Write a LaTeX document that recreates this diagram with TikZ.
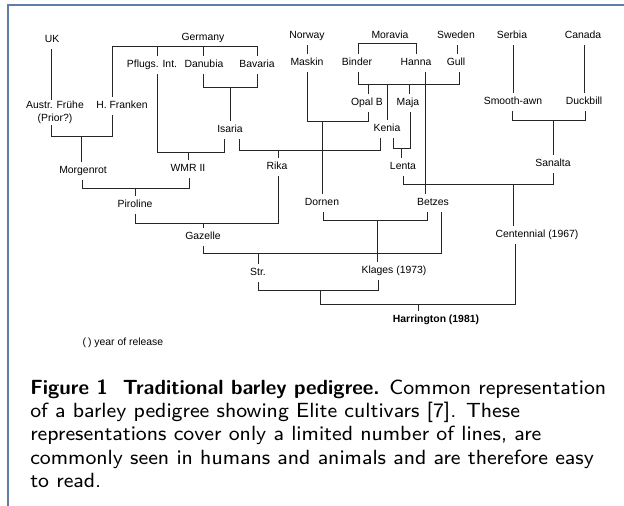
\documentclass[tikz,border=0pt]{standalone}
\usepackage{fontspec}
\usepackage{graphicx}
\newfontfamily\arialf{Liberation Sans}
\definecolor{bordc}{RGB}{95,125,165}
\newcommand{\capsz}[1]{\scalebox{1.925}{\sffamily\fontsize{8}{9.6}\selectfont #1}}
\begin{document}
\begin{tikzpicture}[x=0.75pt,y=-0.75pt,
  lbl/.style={font=\arialf\fontsize{7.8}{9}\selectfont, inner xsep=1pt, inner ysep=3.2pt, text height=5.8pt, text depth=1.4pt},
  lbl2/.style={font=\arialf\fontsize{7.8}{9.8}\selectfont, inner sep=1pt, align=center},
  ln/.style={line width=0.65pt, black!85},
  capline/.style={anchor=base west, inner sep=0pt},
  bordr/.style={line width=1.3pt, draw=bordc}]
\useasboundingbox (0,0) rectangle (624,506);
\draw[bordr] (624,5) -- (8,5) -- (8,506);
% nodes
\node[lbl] (uk) at (52,40) {UK};
\node[lbl] (germany) at (203,38) {Germany};
\node[lbl] (norway) at (307,36) {Norway};
\node[lbl] (moravia) at (390,36) {Moravia};
\node[lbl] (sweden) at (456,36) {Sweden};
\node[lbl] (serbia) at (512,36) {Serbia};
\node[lbl] (canada) at (583,36) {Canada};
\node[lbl] (pflugs) at (152,65) {Pflugs. Int.};
\node[lbl] (danubia) at (204,65) {Danubia};
\node[lbl] (bavaria) at (257,65) {Bavaria};
\node[lbl] (maskin) at (307,63) {Maskin};
\node[lbl] (binder) at (357,63) {Binder};
\node[lbl] (hanna) at (416,63) {Hanna};
\node[lbl] (gull) at (456,63) {Gull};
\node[lbl2] (austr) at (55,112.5) {Austr. Frühe\\(Prior?)};
\node[lbl] (hfranken) at (122,106) {H. Franken};
\node[lbl] (opalb) at (367,103) {Opal B};
\node[lbl] (maja) at (408,103) {Maja};
\node[lbl] (smooth) at (513,102) {Smooth-awn};
\node[lbl] (duckbill) at (584,102) {Duckbill};
\node[lbl] (isaria) at (230,130) {Isaria};
\node[lbl] (kenia) at (387,129) {Kenia};
\node[lbl] (morgenrot) at (83,171) {Morgenrot};
\node[lbl] (wmr) at (188,169) {WMR II};
\node[lbl] (rika) at (277,167) {Rika};
\node[lbl] (lenta) at (403,167) {Lenta};
\node[lbl] (sanalta) at (553,164) {Sanalta};
\node[lbl] (piroline) at (135,205) {Piroline};
\node[lbl] (dornen) at (322,203) {Dornen};
\node[lbl] (betzes) at (433,203) {Betzes};
\node[lbl] (gazelle) at (203,237) {Gazelle};
\node[lbl] (centennial) at (537,235) {Centennial (1967)};
\node[lbl] (str) at (258,273) {Str.};
\node[lbl] (klages) at (394,271) {Klages (1973)};
\node[lbl, font=\arialf\bfseries\fontsize{7.8}{9}\selectfont] (harrington) at (436,320) {Harrington (1981)};
\node[lbl, anchor=west] (legend) at (81,343) {(\hspace{1.5pt}) year of release};
% connectors
\draw[ln] (uk.south -| 51,0) -- (austr.north -| 51,0);
\draw[ln] (hfranken.north -| 112,0) -- (112,46) -- (257,46) -- (bavaria.north -| 257,0);
\draw[ln] (157,46) -- (pflugs.north -| 157,0);
\draw[ln] (203,46) -- (danubia.north -| 203,0);
\draw[ln] (austr.south -| 51,0) -- (51,136) -- (112,136) -- (hfranken.south -| 112,0);
\draw[ln] (81,136) -- (morgenrot.north -| 81,0);
\draw[ln] (danubia.south -| 203,0) -- (203,87) -- (257,87) -- (bavaria.south -| 257,0);
\draw[ln] (230,87) -- (isaria.north -| 230,0);
\draw[ln] (pflugs.south -| 157,0) -- (157,152) -- (224,152) -- (isaria.south -| 224,0);
\draw[ln] (188,152) -- (wmr.north -| 188,0);
\draw[ln] (isaria.south -| 239,0) -- (239,150) -- (380,150) -- (kenia.south -| 380,0);
\draw[ln] (278,150) -- (rika.north -| 278,0);
\draw[ln] (maskin.south -| 307,0) -- (307,121) -- (368,121) -- (opalb.south -| 368,0);
\draw[ln] (322,121) -- (dornen.north -| 322,0);
\draw[ln] (morgenrot.south -| 82,0) -- (82,188) -- (189,188) -- (wmr.south -| 189,0);
\draw[ln] (135,188) -- (piroline.north -| 135,0);
\draw[ln] (piroline.south -| 135,0) -- (135,223) -- (278,223) -- (rika.south -| 278,0);
\draw[ln] (203,223) -- (gazelle.north -| 203,0);
\draw[ln] (gazelle.south -| 203,0) -- (203,253) -- (441,253) -- (betzes.south -| 441,0);
\draw[ln] (258,253) -- (str.north -| 258,0);
\draw[ln] (dornen.south -| 323,0) -- (323,220) -- (427,220) -- (betzes.south -| 427,0);
\draw[ln] (377,220) -- (klages.north -| 377,0);
\draw[ln] (str.south -| 258,0) -- (258,290) -- (378,290) -- (klages.south -| 378,0);
\draw[ln] (320,290) -- (320,304) -- (515,304) -- (centennial.south -| 515,0);
\draw[ln] (418,304) -- (harrington.north -| 418,0);
\draw[ln] (norway.south -| 307,0) -- (maskin.north -| 307,0);
\draw[ln] (binder.north -| 358,0) -- (358,43) -- (416,43) -- (hanna.north -| 416,0);
\draw[ln] (sweden.south -| 457,0) -- (gull.north -| 457,0);
\draw[ln] (binder.south -| 358,0) -- (358,84) -- (459,84) -- (gull.south -| 459,0);
\draw[ln] (368,84) -- (opalb.north -| 368,0);
\draw[ln] (387,84) -- (kenia.north -| 387,0);
\draw[ln] (409,84) -- (maja.north -| 409,0);
\draw[ln] (hanna.south -| 425,0) -- (betzes.north -| 425,0);
\draw[ln] (kenia.south -| 393,0) -- (393,148) -- (410,148) -- (maja.south -| 410,0);
\draw[ln] (401,148) -- (lenta.north -| 401,0);
\draw[ln] (lenta.south -| 403,0) -- (403,184) -- (553,184) -- (sanalta.south -| 553,0);
\draw[ln] (513,184) -- (centennial.north -| 513,0);
\draw[ln] (serbia.south -| 513,0) -- (smooth.north -| 513,0);
\draw[ln] (canada.south -| 584,0) -- (duckbill.north -| 584,0);
\draw[ln] (smooth.south -| 512,0) -- (512,120) -- (585,120) -- (duckbill.south -| 585,0);
\draw[ln] (553,120) -- (sanalta.north -| 553,0);
% caption
\node[capline] (cap1) at (30,394) {\capsz{\textbf{Figure 1\ \ Traditional barley pedigree.} Common representation}};
\node[capline] (cap2) at (30,417) {\capsz{of a barley pedigree showing Elite cultivars [7]. These}};
\node[capline] (cap3) at (30,440.5) {\capsz{representations cover only a limited number of lines, are}};
\node[capline] (cap4) at (30,464) {\capsz{commonly seen in humans and animals and are therefore easy}};
\node[capline] (cap5) at (30,487) {\capsz{to read.}};
\end{tikzpicture}
\end{document}
